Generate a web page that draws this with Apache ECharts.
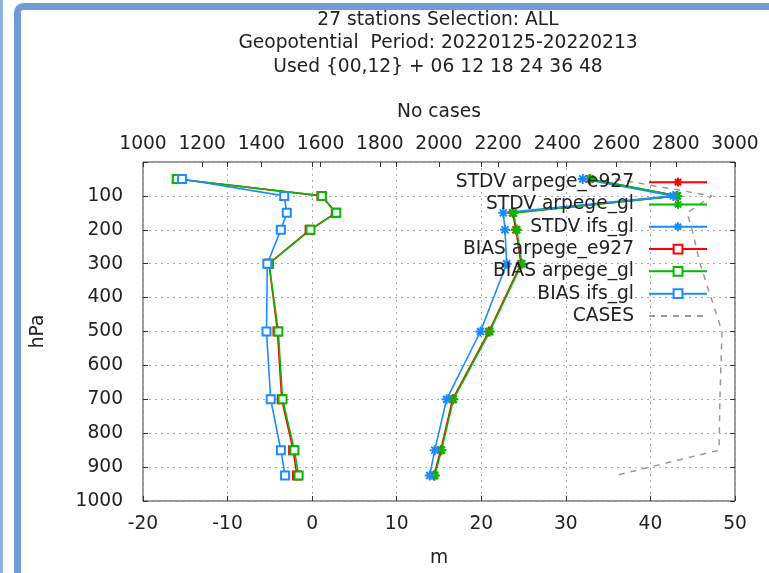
<!DOCTYPE html>
<html style="height: 100%">
<head>
  <meta charset="utf-8">
</head>
<body style="height: 100%; margin: 0; background: #fff">
  <div id="container" style="width: 769px; height: 573px"></div>
  <script type="text/javascript" src="https://cdn.jsdelivr.net/npm/echarts@6/dist/echarts.min.js"></script>
  <script type="text/javascript">
    // pressure levels (hPa)
    var levels = [50, 100, 150, 200, 300, 500, 700, 850, 925];

    // STDV (m)
    var stdvArpegeE927 = [32.8, 43.1, 23.7, 24.1, 24.7, 20.9, 16.6, 15.2, 14.4];
    var stdvArpegeGl = [32.9, 43.2, 23.8, 24.2, 24.8, 21.0, 16.7, 15.3, 14.5];
    var stdvIfsGl = [32.0, 42.7, 22.6, 22.8, 23.0, 19.9, 15.9, 14.5, 13.9];

    // BIAS (m)
    var biasArpegeE927 = [-16.0, 1.1, 2.8, -0.3, -5.1, -4.1, -3.6, -2.25, -1.8];
    var biasArpegeGl = [-16.0, 1.15, 2.85, -0.2, -5.1, -4.0, -3.5, -2.1, -1.6];
    var biasIfsGl = [-15.4, -3.3, -3.0, -3.7, -5.3, -5.4, -4.9, -3.7, -3.2];

    // number of cases (top axis)
    var cases = [2595, 2922, 2838, 2855, 2882, 2956, 2949, 2946, 2595];

    var titleLines = [
      '27 stations Selection: ALL',
      'Geopotential  Period: 20220125-20220213',
      'Used {00,12} + 06 12 18 24 36 48'
    ];

    var font = 'DejaVu Sans';
    var fs = 18.67;
    var textColor = '#222';
    var red = '#ff0000', green = '#00bb00', blue = '#1a8cff';
    var star = 'path://M0 5L10 5M5 0L5 10M1.5 1.5L8.5 8.5M8.5 1.5L1.5 8.5';

    function pairs(xs) {
      return xs.map(function (v, i) { return [v, levels[i]]; });
    }

    function line(name, xs, color, symbol, size, bw) {
      return {
        name: name,
        type: 'line',
        xAxisIndex: 0,
        yAxisIndex: 0,
        data: pairs(xs),
        symbol: symbol,
        symbolSize: size,
        showAllSymbol: true,
        lineStyle: { color: color, width: 1.6 },
        itemStyle: { color: color, borderColor: color, borderWidth: bw }
      };
    }

    var dom = document.getElementById('container');
    var myChart = echarts.init(dom, null, { renderer: 'canvas' });

    var tick = { inside: true, length: 5, lineStyle: { color: '#333' } };
    var noLine = { show: false, onZero: false };
    var dotted = { show: true, lineStyle: { color: '#aaa', type: [2, 4] } };

    var option = {
      animation: false,
      title: {
        text: titleLines.join('\n'),
        left: 433,
        top: 3,
        textAlign: 'center',
        textStyle: { fontFamily: font, fontSize: fs, fontWeight: 'normal', color: textColor, lineHeight: 23.5 }
      },
      graphic: [
        { type: 'rect', shape: { x: 0, y: 0, width: 3, height: 573 }, style: { fill: '#8cb2de' }, silent: true },
        { type: 'rect', shape: { x: 17.5, y: 6.5, width: 800, height: 600, r: 6 }, style: { fill: null, stroke: '#6e9ed6', lineWidth: 7 }, silent: true }
      ],
      legend: {
        orient: 'vertical',
        right: 56,
        top: 166,
        align: 'right',
        itemWidth: 58,
        itemHeight: 11,
        itemGap: 0,
        selectedMode: false,
        textStyle: { fontFamily: font, fontSize: fs, color: textColor, lineHeight: 22.3, padding: [0, 10, 0, 0] },
        data: [
          'STDV arpege_e927', 'STDV arpege_gl', 'STDV ifs_gl',
          'BIAS arpege_e927', 'BIAS arpege_gl', 'BIAS ifs_gl',
          { name: 'CASES', itemStyle: { opacity: 0 } }
        ]
      },
      grid: {
        left: 143,
        right: 34,
        top: 162,
        bottom: 71,
        show: true,
        borderColor: '#333',
        borderWidth: 1
      },
      xAxis: [
        {
          type: 'value',
          position: 'bottom',
          min: -20,
          max: 50,
          interval: 10,
          name: 'm',
          nameLocation: 'middle',
          nameGap: 48,
          nameTextStyle: { fontFamily: font, fontSize: fs, color: textColor },
          axisLine: noLine,
          axisTick: tick,
          axisLabel: { fontFamily: font, fontSize: fs, color: textColor, margin: 14 },
          splitLine: dotted
        },
        {
          type: 'value',
          position: 'top',
          min: 1000,
          max: 3000,
          interval: 200,
          name: 'No cases',
          nameLocation: 'middle',
          nameGap: 40,
          nameTextStyle: { fontFamily: font, fontSize: fs, color: textColor },
          axisLine: noLine,
          axisTick: tick,
          axisLabel: {
            fontFamily: font, fontSize: fs, color: textColor, margin: 8,
            formatter: function (v) { return String(v); }
          },
          splitLine: { show: false }
        },
        {
          type: 'value',
          position: 'top',
          min: -20,
          max: 50,
          interval: 10,
          axisLine: noLine,
          axisTick: tick,
          axisLabel: { show: false },
          splitLine: { show: false }
        }
      ],
      yAxis: [
        {
          type: 'value',
          inverse: true,
          min: 0,
          max: 1000,
          interval: 100,
          name: 'hPa',
          nameLocation: 'middle',
          nameGap: 95,
          nameTextStyle: { fontFamily: font, fontSize: fs, color: textColor },
          axisLine: noLine,
          axisTick: tick,
          axisLabel: {
            fontFamily: font, fontSize: fs, color: textColor, margin: 20,
            formatter: function (v) { return v === 0 ? '' : String(v); }
          },
          splitLine: dotted
        },
        {
          type: 'value',
          position: 'right',
          inverse: true,
          min: 0,
          max: 1000,
          interval: 100,
          axisLine: noLine,
          axisTick: tick,
          axisLabel: { show: false },
          splitLine: { show: false }
        }
      ],
      series: [
        line('STDV arpege_e927', stdvArpegeE927, red, star, 10, 2),
        line('STDV arpege_gl', stdvArpegeGl, green, star, 10, 2),
        line('STDV ifs_gl', stdvIfsGl, blue, star, 10, 2),
        line('BIAS arpege_e927', biasArpegeE927, red, 'emptyRect', 8, 1.5),
        line('BIAS arpege_gl', biasArpegeGl, green, 'emptyRect', 8, 1.5),
        line('BIAS ifs_gl', biasIfsGl, blue, 'emptyRect', 8, 1.5),
        {
          name: 'CASES',
          type: 'line',
          xAxisIndex: 1,
          yAxisIndex: 0,
          data: pairs(cases),
          symbol: 'none',
          lineStyle: { color: '#999', width: 1.5, type: [6, 6] },
          itemStyle: { color: '#999' }
        }
      ]
    };

    myChart.setOption(option);
    window.addEventListener('resize', myChart.resize);
  </script>
</body>
</html>
